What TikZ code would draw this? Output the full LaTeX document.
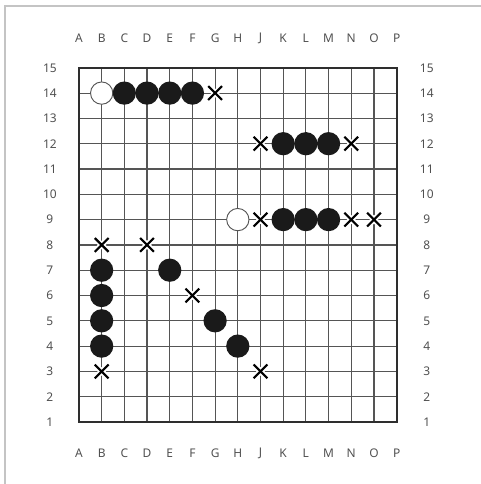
\documentclass[tikz,border=0pt]{standalone}
\usepackage{fontspec}
\setmainfont{Noto Sans}
\usepackage{tikz}
\usetikzlibrary{positioning}
\usepackage{xcolor}
\definecolor{board}{HTML}{555555}
\definecolor{edge}{HTML}{2E2E2E}
\definecolor{label}{HTML}{505050}
\definecolor{frame}{HTML}{C4C4C4}
\definecolor{stone}{HTML}{1A1A1A}

% X mark: a named spot plus a haloed cross
\newcommand{\xmark}[3]{%
  \node[xspot] (#1) at (#2,#3) {};
  \draw[xhalo] (#1.north west) -- (#1.south east) (#1.north east) -- (#1.south west);
  \draw[xline] (#1.north west) -- (#1.south east) (#1.north east) -- (#1.south west);
}

\begin{document}
\begin{tikzpicture}[
  x=0.6cm, y=0.669cm,
  gridline/.style={board, line width=0.9pt},
  rim/.style={edge, line width=1.4pt},
  coord/.style={font=\fontsize{9}{11}\selectfont, text=label, inner sep=0pt},
  bstone/.style={circle, fill=stone, minimum size=0.615cm, inner sep=0pt},
  wstone/.style={circle, fill=white, draw=board, line width=0.7pt, minimum size=0.59cm, inner sep=0pt},
  xspot/.style={inner sep=0pt, minimum width=0.35cm, minimum height=0.35cm},
  xhalo/.style={white, line width=4.2pt},
  xline/.style={black, line width=1.6pt}
]
  \useasboundingbox (-2.48,-1.45) rectangle (18.71,17.68);

  % outer frame
  \draw[frame, line width=1.5pt] (-2.26,-1.6) -- (-2.26,17.44) -- (18.9,17.44);

  % board
  \foreach \i in {2,...,14} \draw[gridline] (\i,1) -- (\i,15);
  \foreach \j in {2,...,14} \draw[gridline] (1,\j) -- (15,\j);
  \draw[rim] (1,1) rectangle (15,15);

  % coordinates
  \foreach \c [count=\i] in {A,B,C,D,E,F,G,H,J,K,L,M,N,O,P} {
    \node[coord] (top\c) at (\i,16.18) {\c};
    \node[coord] (bot\c) at (\i,-0.22) {\c};
  }
  \foreach \j in {1,...,15} {
    \node[coord] (left\j) at (-0.28,\j) {\j};
    \node[coord] (right\j) at (16.33,\j) {\j};
  }

  % row 14
  \node[wstone] (b14) at (2,14) {};
  \node[bstone] (c14) at (3,14) {};
  \node[bstone] (d14) at (4,14) {};
  \node[bstone] (e14) at (5,14) {};
  \node[bstone] (f14) at (6,14) {};
  \xmark{g14}{7}{14}

  % row 12
  \xmark{j12}{9}{12}
  \node[bstone] (k12) at (10,12) {};
  \node[bstone] (l12) at (11,12) {};
  \node[bstone] (m12) at (12,12) {};
  \xmark{n12}{13}{12}

  % row 9
  \node[wstone] (h9) at (8,9) {};
  \xmark{j9}{9}{9}
  \node[bstone] (k9) at (10,9) {};
  \node[bstone] (l9) at (11,9) {};
  \node[bstone] (m9) at (12,9) {};
  \xmark{n9}{13}{9}
  \xmark{o9}{14}{9}

  % column B
  \xmark{b8}{2}{8}
  \node[bstone] (b7) at (2,7) {};
  \node[bstone] (b6) at (2,6) {};
  \node[bstone] (b5) at (2,5) {};
  \node[bstone] (b4) at (2,4) {};
  \xmark{b3}{2}{3}

  % diagonal
  \xmark{d8}{4}{8}
  \node[bstone] (e7) at (5,7) {};
  \xmark{f6}{6}{6}
  \node[bstone] (g5) at (7,5) {};
  \node[bstone] (h4) at (8,4) {};
  \xmark{j3}{9}{3}
\end{tikzpicture}
\end{document}
